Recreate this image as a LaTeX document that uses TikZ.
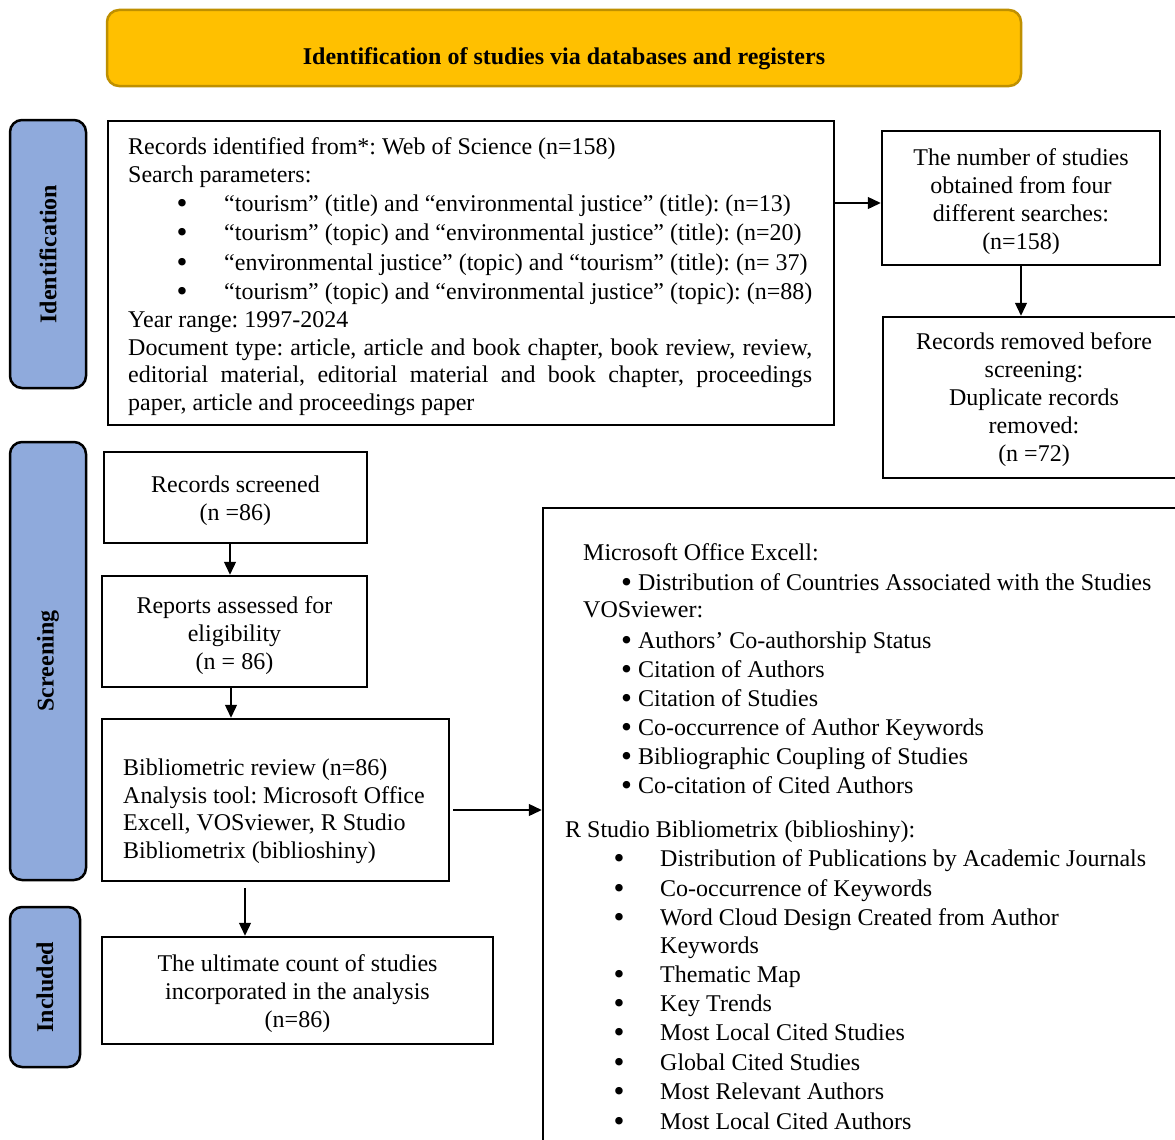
\documentclass[tikz,border=0pt]{standalone}
\usepackage{fontspec}
\setmainfont{Liberation Serif}
\usetikzlibrary{arrows.meta,calc}
\definecolor{bannerfill}{HTML}{FFC000}
\definecolor{bannerline}{HTML}{BF9000}
\definecolor{stagefill}{HTML}{8FAADC}
\frenchspacing

% enlarged list bullet, kept on the text's optical centre
\newcommand{\bul}{\raisebox{-0.09em}{\scalebox{1.3}{\textbullet}}}
% one line of text, placed on its baseline
\newcommand{\tline}[4]{\node[txt,anchor=base west] (#1) at (#2,#3) {#4};}
% one bulleted line: bullet centred at x=#2, text starting at x=#3
\newcommand{\bline}[5]{%
  \node[txt,anchor=base] (#1b) at (#2,#4) {\bul};
  \node[txt,anchor=base west] (#1) at (#3,#4) {#5};}

\begin{document}
\begin{tikzpicture}[x=1pt,y=-1pt,
  txt/.style={font=\fontsize{24}{28}\selectfont, inner sep=0pt},
  box/.style={draw, line width=2.5pt, inner sep=0pt},
  boxtext/.style={inner sep=0pt, align=center, font=\fontsize{24}{28}\selectfont},
  stage/.style={draw, line width=2.5pt, fill=stagefill, rounded corners=12pt,
    inner sep=0pt},
  stagetext/.style={rotate=90, inner sep=0pt, font=\fontsize{24}{28}\selectfont\bfseries},
  arr/.style={line width=1.3pt, -{Triangle[length=13pt,width=12pt]}}]

\useasboundingbox (0,0) rectangle (1175,1140);
\clip (0,0) rectangle (1175,1140);
\fill[white] (0,0) rectangle (1175,1140);

% heading banner
\node[draw=bannerline, fill=bannerfill, line width=2.5pt, rounded corners=12pt,
  minimum width=914pt, minimum height=76pt] (banner) at (564,48) {};
\node[txt, anchor=base, font=\fontsize{24}{28}\selectfont\bfseries] (bannertxt) at (564,65)
  {Identification of studies via databases and registers};

% stage bars
\node[stage, minimum width=76pt, minimum height=268pt] (sid) at (48,254) {};
\node[stagetext] (sidt) at (sid.center) {Identification};
\node[stage, minimum width=76pt, minimum height=438pt] (ssc) at (48,661) {};
\node[stagetext] (ssct) at (ssc.center) {Screening};
\node[stage, minimum width=70pt, minimum height=160pt] (sin) at (45,987) {};
\node[stagetext] (sint) at (sin.center) {Included};

% identification box
\node[box, minimum width=726pt, minimum height=304pt] (ident) at (471,273) {};
\tline{i1}{128}{154}{Records identified from*: Web of Science (n=158)}
\tline{i2}{128}{182}{Search parameters:}
\bline{i3}{182}{224}{211}{“tourism” (title) and “environmental justice” (title): (n=13)}
\bline{i4}{182}{224}{240}{“tourism” (topic) and “environmental justice” (title): (n=20)}
\bline{i5}{182}{224}{270}{“environmental justice” (topic) and “tourism” (title): (n= 37)}
\bline{i6}{182}{224}{299}{“tourism” (topic) and “environmental justice” (topic): (n=88)}
\tline{i7}{128}{327}{Year range: 1997-2024}
\tline{i8}{128}{355}{\makebox[684pt][s]{Document type: article, article and book chapter, book review, review,}}
\tline{i9}{128}{382}{\makebox[684pt][s]{editorial material, editorial material and book chapter, proceedings}}
\tline{i10}{128}{410}{paper, article and proceedings paper}

% right column boxes
\node[box, minimum width=278pt, minimum height=134pt] (four) at (1021,198) {};
\node[boxtext] (fourt) at ($(four.center)+(0,3.5)$)
  {The number of studies\\obtained from four\\different searches:\\(n=158)};
\node[box, minimum width=302pt, minimum height=161pt] (removed) at (1034,397.5) {};
\node[boxtext] (removedt) at ($(removed.center)+(0,2.5)$)
  {Records removed before\\screening:\\Duplicate records\\removed:\\(n =72)};

% screening boxes
\node[box, minimum width=263pt, minimum height=91pt] (screened) at (235.5,497.5) {};
\node[boxtext] (screenedt) at ($(screened.center)+(0,3)$) {Records screened\\(n =86)};
\node[box, minimum width=265pt, minimum height=111pt] (reports) at (234.5,631.5) {};
\node[boxtext] (reportst) at ($(reports.center)+(0,4)$) {Reports assessed for\\eligibility\\(n = 86)};
\node[box, minimum width=347pt, minimum height=162pt] (biblio) at (275.5,800) {};
\tline{b1}{123}{775}{Bibliometric review (n=86)}
\tline{b2}{123}{803}{Analysis tool: Microsoft Office}
\tline{b3}{123}{830}{Excell, VOSviewer, R Studio}
\tline{b4}{123}{858}{Bibliometrix (biblioshiny)}

% included box
\node[box, minimum width=391pt, minimum height=107pt] (final) at (297.5,990.5) {};
\node[boxtext] (finalt) at ($(final.center)+(0,3)$)
  {The ultimate count of studies\\incorporated in the analysis\\(n=86)};

% analyses box (runs past the lower right edge)
\node[box, minimum width=657pt, minimum height=652pt] (tools) at (871.5,834) {};
\tline{t1}{583}{560}{Microsoft Office Excell:}
\tline{t2}{621}{590}{\bul{} Distribution of Countries Associated with the Studies}
\tline{t3}{583}{617}{VOSviewer:}
\tline{t4}{621}{648}{\bul{} Authors’ Co-authorship Status}
\tline{t5}{621}{677}{\bul{} Citation of Authors}
\tline{t6}{621}{706}{\bul{} Citation of Studies}
\tline{t7}{621}{735}{\bul{} Co-occurrence of Author Keywords}
\tline{t8}{621}{764}{\bul{} Bibliographic Coupling of Studies}
\tline{t9}{621}{793}{\bul{} Co-citation of Cited Authors}
\tline{t10}{565}{837}{R Studio Bibliometrix (biblioshiny):}
\bline{r1}{619}{660}{866}{Distribution of Publications by Academic Journals}
\bline{r2}{619}{660}{896}{Co-occurrence of Keywords}
\bline{r3}{619}{660}{925}{Word Cloud Design Created from Author}
\tline{r3x}{660}{953}{Keywords}
\bline{r4}{619}{660}{982}{Thematic Map}
\bline{r5}{619}{660}{1011}{Key Trends}
\bline{r6}{619}{660}{1040}{Most Local Cited Studies}
\bline{r7}{619}{660}{1070}{Global Cited Studies}
\bline{r8}{619}{660}{1099}{Most Relevant Authors}
\bline{r9}{619}{660}{1129}{Most Local Cited Authors}

% connectors
\draw[arr] ($(four.west -| ident.east)+(0,5)$) -- ($(four.west)+(0,5)$);
\draw[arr] (four.south) -- (four.south |- removed.north);
\draw[arr] ($(screened.south)+(-5.5,0)$) -- ($(screened.south |- reports.north)+(-5.5,0)$);
\draw[arr] ($(reports.south)+(-3.5,0)$) -- ($(reports.south |- biblio.north)+(-3.5,0)$);
\draw[arr] ($(biblio.east)+(3,10)$) -- ($(biblio.east -| tools.west)+(0,10)$);
\draw[arr] ($(final.north |- biblio.south)+(-52.5,6)$) -- ($(final.north)+(-52.5,0)$);

\end{tikzpicture}
\end{document}
